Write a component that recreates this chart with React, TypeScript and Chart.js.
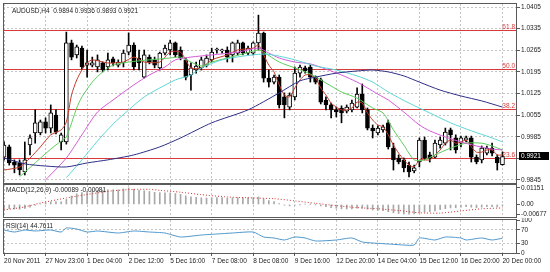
import React, { useEffect, useRef } from 'react';
import { Chart, registerables } from 'chart.js';

Chart.register(...registerables);

// ---------- text ----------
const symbolTitle = 'AUDUSD,H4  0.9894 0.9936 0.9893 0.9921';
const macdTitle = 'MACD(12,26,9) -0.00089 -0.00081';
const rsiTitle = 'RSI(14) 44.7611';

// ---------- time axis ----------
const timeLabels = ['20 Nov 2011', '27 Nov 23:00', '1 Dec 04:00', '2 Dec 12:00', '5 Dec 16:00', '7 Dec 08:00', '8 Dec 08:00', '9 Dec 16:00', '12 Dec 20:00', '14 Dec 04:00', '15 Dec 12:00', '16 Dec 20:00', '20 Dec 00:00'];
const timeLabelBars = [0, 8, 16, 24, 32, 40, 48, 56, 64, 72, 80, 88, 96];

// ---------- price candles (H4) ----------
const opens = [0.9919, 0.9952, 0.9903, 0.9900, 0.9871, 0.9958, 0.9997, 0.9997, 1.0033, 1.0013, 1.0055, 0.9968, 0.9968, 1.0289, 1.0250, 1.0272, 1.0217, 1.0217, 1.0211, 1.0224, 1.0211, 1.0237, 1.0217, 1.0224, 1.0259, 1.0282, 1.0240, 1.0178, 1.0243, 1.0234, 1.0208, 1.0256, 1.0266, 1.0289, 1.0266, 1.0234, 1.0185, 1.0201, 1.0208, 1.0217, 1.0234, 1.0266, 1.0263, 1.0266, 1.0250, 1.0256, 1.0289, 1.0256, 1.0256, 1.0289, 1.0321, 1.0175, 1.0162, 1.0178, 1.0114, 1.0081, 1.0114, 1.0191, 1.0208, 1.0211, 1.0178, 1.0169, 1.0104, 1.0088, 1.0072, 1.0078, 1.0068, 1.0072, 1.0081, 1.0123, 1.0072, 1.0013, 0.9997, 1.0007, 1.0030, 0.9948, 0.9916, 0.9910, 0.9893, 0.9874, 0.9903, 0.9974, 0.9926, 0.9919, 0.9958, 0.9964, 1.0007, 0.9981, 0.9964, 0.9974, 0.9981, 0.9919, 0.9910, 0.9932, 0.9948, 0.9919, 0.9894];
const highs = [0.9968, 0.9958, 0.9910, 0.9910, 0.9968, 0.9991, 1.0072, 1.0039, 1.0046, 1.0088, 1.0072, 0.9997, 1.0324, 1.0298, 1.0282, 1.0279, 1.0266, 1.0243, 1.0250, 1.0227, 1.0256, 1.0243, 1.0234, 1.0266, 1.0321, 1.0289, 1.0266, 1.0266, 1.0250, 1.0243, 1.0259, 1.0282, 1.0298, 1.0292, 1.0276, 1.0240, 1.0224, 1.0227, 1.0243, 1.0250, 1.0272, 1.0272, 1.0269, 1.0276, 1.0292, 1.0298, 1.0292, 1.0279, 1.0292, 1.0379, 1.0324, 1.0201, 1.0185, 1.0185, 1.0127, 1.0127, 1.0211, 1.0217, 1.0214, 1.0217, 1.0182, 1.0175, 1.0114, 1.0094, 1.0081, 1.0085, 1.0088, 1.0104, 1.0143, 1.0156, 1.0078, 1.0023, 1.0020, 1.0023, 1.0039, 0.9964, 0.9926, 0.9916, 0.9903, 0.9893, 0.9981, 0.9984, 0.9935, 0.9974, 0.9984, 1.0013, 1.0013, 0.9991, 0.9987, 0.9987, 0.9987, 0.9926, 0.9955, 0.9955, 0.9964, 0.9926, 0.9936];
const lows = [0.9910, 0.9893, 0.9868, 0.9861, 0.9861, 0.9926, 0.9964, 0.9991, 0.9997, 0.9997, 0.9994, 0.9942, 0.9961, 1.0234, 1.0240, 1.0204, 1.0178, 1.0211, 1.0195, 1.0195, 1.0201, 1.0214, 1.0211, 1.0211, 1.0250, 1.0201, 1.0201, 1.0175, 1.0221, 1.0208, 1.0201, 1.0250, 1.0250, 1.0243, 1.0234, 1.0169, 1.0136, 1.0191, 1.0201, 1.0211, 1.0227, 1.0256, 1.0256, 1.0227, 1.0227, 1.0250, 1.0250, 1.0250, 1.0250, 1.0266, 1.0162, 1.0146, 1.0156, 1.0078, 1.0046, 1.0072, 1.0104, 1.0178, 1.0191, 1.0162, 1.0156, 1.0091, 1.0072, 1.0046, 1.0049, 1.0030, 1.0062, 1.0065, 1.0078, 1.0062, 1.0007, 0.9981, 0.9991, 1.0000, 0.9945, 0.9877, 0.9897, 0.9871, 0.9855, 0.9868, 0.9887, 0.9910, 0.9903, 0.9916, 0.9948, 0.9958, 0.9942, 0.9932, 0.9952, 0.9968, 0.9903, 0.9897, 0.9900, 0.9926, 0.9923, 0.9877, 0.9893];
const closes = [0.9958, 0.9900, 0.9893, 0.9877, 0.9910, 0.9981, 1.0030, 1.0033, 1.0013, 1.0062, 1.0000, 0.9991, 1.0289, 1.0243, 1.0276, 1.0211, 1.0224, 1.0224, 1.0234, 1.0201, 1.0234, 1.0224, 1.0227, 1.0256, 1.0282, 1.0211, 1.0224, 1.0250, 1.0227, 1.0217, 1.0256, 1.0272, 1.0289, 1.0250, 1.0240, 1.0178, 1.0208, 1.0214, 1.0234, 1.0240, 1.0259, 1.0266, 1.0263, 1.0243, 1.0289, 1.0289, 1.0256, 1.0272, 1.0289, 1.0321, 1.0175, 1.0162, 1.0178, 1.0088, 1.0088, 1.0120, 1.0191, 1.0211, 1.0198, 1.0178, 1.0162, 1.0097, 1.0088, 1.0072, 1.0065, 1.0062, 1.0081, 1.0094, 1.0123, 1.0072, 1.0013, 1.0004, 1.0013, 1.0017, 0.9952, 0.9910, 0.9903, 0.9884, 0.9871, 0.9884, 0.9974, 0.9916, 0.9913, 0.9964, 0.9974, 1.0000, 0.9991, 0.9942, 0.9981, 0.9981, 0.9919, 0.9903, 0.9948, 0.9948, 0.9932, 0.9900, 0.9921];

// ---------- moving averages: [bar, price] read at sample bars ----------
const maRed: [number, number][] = [[0, 0.9877], [3, 0.9887], [5, 0.9916], [7, 0.9952], [9, 0.9991], [11, 1.0007], [12, 1.0033], [13, 1.0120], [14, 1.0169], [15, 1.0201], [16, 1.0224], [17, 1.0234], [20, 1.0224], [23, 1.0227], [25, 1.0243], [27, 1.0227], [30, 1.0227], [32, 1.0259], [34, 1.0259], [36, 1.0208], [38, 1.0208], [40, 1.0234], [43, 1.0250], [45, 1.0266], [48, 1.0272], [49, 1.0282], [50, 1.0250], [51, 1.0217], [52, 1.0195], [53, 1.0153], [54, 1.0120], [55, 1.0114], [56, 1.0143], [57, 1.0169], [58, 1.0185], [59, 1.0185], [60, 1.0175], [61, 1.0143], [62, 1.0120], [63, 1.0094], [64, 1.0081], [65, 1.0072], [66, 1.0072], [67, 1.0078], [68, 1.0097], [69, 1.0094], [70, 1.0062], [71, 1.0039], [72, 1.0023], [73, 1.0017], [74, 0.9991], [75, 0.9958], [76, 0.9932], [77, 0.9910], [78, 0.9893], [79, 0.9887], [80, 0.9910], [81, 0.9910], [82, 0.9910], [83, 0.9926], [84, 0.9942], [85, 0.9964], [86, 0.9974], [87, 0.9964], [88, 0.9968], [89, 0.9974], [90, 0.9952], [91, 0.9935], [92, 0.9935], [93, 0.9942], [94, 0.9942], [95, 0.9926], [96, 0.9926]];
const maGreen: [number, number][] = [[3, 0.9855], [6, 0.9900], [9, 0.9945], [11, 0.9971], [12, 0.9984], [14, 1.0078], [15, 1.0114], [17, 1.0162], [19, 1.0195], [21, 1.0217], [24, 1.0227], [28, 1.0234], [32, 1.0240], [34, 1.0243], [36, 1.0227], [38, 1.0214], [40, 1.0227], [43, 1.0240], [46, 1.0253], [49, 1.0266], [50, 1.0259], [53, 1.0227], [56, 1.0208], [59, 1.0188], [62, 1.0159], [65, 1.0130], [68, 1.0110], [71, 1.0078], [73, 1.0062], [75, 1.0007], [77, 0.9958], [79, 0.9910], [81, 0.9910], [83, 0.9926], [86, 0.9948], [89, 0.9964], [92, 0.9964], [94, 0.9955], [96, 0.9942]];
const maMagenta: [number, number][] = [[8, 0.9845], [12, 0.9916], [15, 0.9991], [18, 1.0065], [21, 1.0104], [25, 1.0153], [28, 1.0185], [31, 1.0211], [33, 1.0234], [36, 1.0243], [40, 1.0250], [45, 1.0259], [49, 1.0272], [51, 1.0256], [53, 1.0240], [56, 1.0227], [59, 1.0221], [62, 1.0204], [65, 1.0185], [68, 1.0162], [70, 1.0143], [72, 1.0123], [74, 1.0104], [77, 1.0065], [80, 1.0023], [82, 1.0004], [85, 0.9984], [88, 0.9968], [91, 0.9955], [94, 0.9945], [96, 0.9942]];
const maCyan: [number, number][] = [[12, 0.9852], [15, 0.9910], [18, 0.9971], [21, 1.0026], [24, 1.0072], [27, 1.0114], [30, 1.0143], [33, 1.0169], [36, 1.0185], [38, 1.0208], [42, 1.0234], [46, 1.0246], [50, 1.0253], [53, 1.0246], [56, 1.0234], [60, 1.0214], [64, 1.0201], [68, 1.0182], [71, 1.0162], [74, 1.0130], [78, 1.0094], [82, 1.0062], [86, 1.0030], [90, 1.0004], [94, 0.9981], [96, 0.9968]];
const maNavy: [number, number][] = [[0, 0.9916], [4, 0.9897], [8, 0.9890], [12, 0.9887], [16, 0.9900], [20, 0.9910], [25, 0.9926], [30, 0.9952], [34, 0.9981], [40, 1.0030], [47, 1.0072], [53, 1.0127], [57, 1.0166], [60, 1.0178], [64, 1.0191], [68, 1.0198], [71, 1.0201], [74, 1.0195], [77, 1.0182], [80, 1.0162], [84, 1.0136], [88, 1.0117], [92, 1.0101], [96, 1.0081]];

// ---------- fibonacci levels ----------
const fibLabels = ['61.8', '50.0', '38.2', '23.6'];
const fibPrices = [1.0331, 1.0203, 1.0075, 0.9916];

// ---------- price axis ----------
const priceTicks = [1.0405, 1.0335, 1.0265, 1.0195, 1.0125, 1.0055, 0.9985, 0.9915, 0.9845];
const lastPrice = 0.9921;

// ---------- MACD ----------
const macdMain = [-0.0030, -0.0030, -0.0032, -0.0033, -0.0028, -0.0018, -0.0006, 0.0004, 0.0010, 0.0018, 0.0020, 0.0018, 0.0035, 0.0058, 0.0074, 0.0083, 0.0090, 0.0095, 0.0099, 0.0100, 0.0102, 0.0102, 0.0101, 0.0108, 0.01151, 0.0105, 0.0098, 0.0095, 0.0090, 0.0084, 0.0082, 0.0080, 0.0080, 0.0076, 0.0070, 0.0060, 0.0053, 0.0049, 0.0046, 0.0045, 0.0046, 0.0047, 0.0047, 0.0044, 0.0046, 0.0048, 0.0046, 0.0046, 0.0047, 0.0052, 0.0038, 0.0027, 0.0020, 0.0006, -0.0005, -0.0010, -0.0006, -0.0001, 0.0002, 0.0001, -0.0001, -0.0010, -0.0016, -0.0022, -0.0027, -0.0031, -0.0032, -0.0031, -0.0025, -0.0026, -0.0033, -0.0039, -0.0042, -0.0043, -0.0050, -0.0058, -0.0063, -0.0067, -0.00677, -0.0066, -0.0056, -0.0053, -0.0050, -0.0044, -0.0037, -0.0029, -0.0024, -0.0023, -0.0019, -0.0016, -0.0019, -0.0022, -0.0019, -0.0016, -0.0015, -0.0017, -0.0009];
const macdSignal: [number, number][] = [[0, -0.0038], [4, -0.0017], [7, 0.0010], [12, 0.0045], [17, 0.0075], [21, 0.0095], [25, 0.0105], [28, 0.0105], [30, 0.0098], [34, 0.0085], [38, 0.0068], [43, 0.0052], [48, 0.0045], [52, 0.0040], [56, 0.0025], [60, 0.0008], [64, -0.0008], [68, -0.0022], [72, -0.0030], [76, -0.0042], [80, -0.0058], [84, -0.0060], [88, -0.0045], [92, -0.0030], [96, -0.0024]];
const macdTicks = [0.01151, 0, -0.00677];
const macdTickLabels = ['0.01151', '0.00', '-0.00677'];

// ---------- RSI ----------
const rsiValues: [number, number][] = [[0, 69.7], [2, 63.6], [4, 69.7], [6, 66.7], [9, 69.7], [11, 63.6], [12, 75.8], [14, 72.7], [16, 63.6], [18, 66.7], [22, 60.6], [25, 66.7], [28, 63.6], [31, 60.6], [34, 48.5], [38, 54.5], [41, 57.6], [44, 60.6], [48, 63.6], [50, 48.5], [52, 45.5], [54, 39.4], [56, 48.5], [58, 45.5], [60, 36.4], [64, 39.4], [67, 45.5], [69, 33.3], [71, 30.3], [74, 27.3], [77, 24.2], [79, 24.2], [80, 45.5], [83, 39.4], [85, 48.5], [88, 45.5], [89, 39.4], [92, 45.5], [94, 39.4], [96, 44.76]];
const rsiTicks = [100, 70, 30, 0];

// ---------- styling ----------
const FONT_FAMILY = "'Liberation Sans', Arial, sans-serif";
const FONT_SIZE = 6.5;
const TEXT = '#222';
const GRID = '#c4c4c4';
const FRAME = '#5a5a5a';
const FIB = '#d83a3a';
const AXIS_W = 33;
const X_MIN = -0.2;
const X_MAX = 98.8;

const toXY = (pairs: [number, number][]) => pairs.map(([x, y]) => ({ x, y }));

function xAxis(showLabels: boolean): any {
  return {
    type: 'linear',
    min: X_MIN,
    max: X_MAX,
    offset: false,
    afterBuildTicks: (s: any) => { s.ticks = timeLabelBars.map((v) => ({ value: v })); },
    afterFit: (s: any) => { s.height = showLabels ? 19 : 0; s.paddingLeft = 0; s.paddingRight = 0; },
    grid: { color: GRID, lineWidth: 1, offset: false, drawTicks: showLabels, tickLength: 3, tickColor: FRAME, tickBorderDash: [] },
    border: { display: false, dash: [2, 2] },
    ticks: {
      display: showLabels, autoSkip: false, maxRotation: 0, minRotation: 0, align: 'start', padding: 1,
      font: { family: FONT_FAMILY, size: FONT_SIZE }, color: TEXT,
      callback: (_v: any, i: number) => timeLabels[i] ?? '',
    },
  };
}

function yAxis(min: number, max: number, ticks: number[], labels: string[], gridFor: (v: number) => boolean): any {
  return {
    position: 'right',
    min,
    max,
    afterBuildTicks: (s: any) => { s.ticks = ticks.map((v) => ({ value: v })); },
    afterFit: (s: any) => { s.width = AXIS_W; s.paddingTop = 0; s.paddingBottom = 0; },
    grid: {
      color: (c: any) => (c.tick && gridFor(c.tick.value) ? GRID : 'rgba(0,0,0,0)'),
      lineWidth: 1, drawTicks: true, tickLength: 3, tickColor: FRAME, tickBorderDash: [],
    },
    border: { display: false, dash: [2, 2] },
    ticks: {
      autoSkip: false, padding: 1,
      font: { family: FONT_FAMILY, size: FONT_SIZE }, color: TEXT,
      callback: (_v: any, i: number) => labels[i] ?? '',
    },
  };
}

function framePlugin(title: string, titleX: number, titleY: number) {
  return {
    id: 'frame_' + title.slice(0, 4),
    afterDraw(chart: any) {
      const { ctx, chartArea: a } = chart;
      ctx.save();
      ctx.strokeStyle = FRAME;
      ctx.lineWidth = 1;
      ctx.strokeRect(Math.round(a.left) + 0.5, Math.round(a.top) - 0.5, Math.round(a.right - a.left) - 1, Math.round(a.bottom - a.top) + 1);
      ctx.fillStyle = TEXT;
      ctx.font = `${FONT_SIZE}px ${FONT_FAMILY}`;
      ctx.textAlign = 'left';
      ctx.textBaseline = 'middle';
      ctx.fillText(title, titleX, titleY);
      ctx.restore();
    },
  };
}

const fibPlugin = {
  id: 'fib',
  beforeDatasetsDraw(chart: any) {
    const { ctx, chartArea: a, scales } = chart;
    const y = scales.y;
    ctx.save();
    ctx.beginPath();
    ctx.rect(a.left, a.top, a.right - a.left, a.bottom - a.top);
    ctx.clip();
    fibPrices.forEach((p, k) => {
      const py = Math.round(y.getPixelForValue(p)) + 0.5;
      ctx.strokeStyle = FIB;
      ctx.lineWidth = 1;
      ctx.setLineDash([]);
      ctx.beginPath();
      ctx.moveTo(a.left, py);
      ctx.lineTo(a.right, py);
      ctx.stroke();
      ctx.fillStyle = FIB;
      ctx.font = `${FONT_SIZE}px ${FONT_FAMILY}`;
      ctx.textAlign = 'right';
      ctx.textBaseline = 'bottom';
      ctx.fillText(fibLabels[k], a.right - 2, py - 0.5);
    });
    ctx.restore();
  },
  afterDraw(chart: any) {
    const { ctx, chartArea: a, scales } = chart;
    const py = scales.y.getPixelForValue(lastPrice);
    ctx.save();
    ctx.fillStyle = '#000';
    ctx.fillRect(a.right + 2, Math.round(py) - 4, 30, 8);
    ctx.fillStyle = '#fff';
    ctx.font = `${FONT_SIZE}px ${FONT_FAMILY}`;
    ctx.textAlign = 'left';
    ctx.textBaseline = 'middle';
    ctx.fillText(lastPrice.toFixed(4), a.right + 4, Math.round(py));
    ctx.restore();
  },
};

const baseOptions = {
  responsive: false,
  animation: false,
  devicePixelRatio: 1,
  events: [],
  plugins: { legend: { display: false }, tooltip: { enabled: false } },
};

function maDataset(pairs: [number, number][], color: string): any {
  return {
    type: 'line', data: toXY(pairs), borderColor: color, borderWidth: 1,
    pointRadius: 0, tension: 0.25, spanGaps: true, order: -1,
  };
}

export default function App() {
  const mainRef = useRef<HTMLCanvasElement>(null);
  const macdRef = useRef<HTMLCanvasElement>(null);
  const rsiRef = useRef<HTMLCanvasElement>(null);

  useEffect(() => {
    const charts: Chart[] = [];

    const wickData = highs.map((h, i) => ({ x: i, y: [lows[i], h] }));
    const bodyData = opens.map((o, i) => ({ x: i, y: [o, closes[i]] }));
    const bodyColors = opens.map((o, i) => (closes[i] >= o ? '#ffffff' : '#000000'));

    charts.push(new Chart(mainRef.current as HTMLCanvasElement, {
      type: 'bar',
      data: {
        datasets: [
          maDataset(maNavy, '#2e2e86'),
          maDataset(maCyan, '#5fd6d6'),
          maDataset(maMagenta, '#d45ad4'),
          maDataset(maGreen, '#5ccc5c'),
          maDataset(maRed, '#c23b2b'),
          { type: 'bar', data: wickData, backgroundColor: '#000', barThickness: 1, grouped: false, order: 2, borderWidth: 0 },
          { type: 'bar', data: bodyData, backgroundColor: bodyColors, borderColor: '#000', borderWidth: 1, borderSkipped: false, barThickness: 4, minBarLength: 1, grouped: false, order: 1 },
        ],
      } as any,
      options: {
        ...baseOptions,
        layout: { padding: { left: 3, top: 4, right: 0, bottom: 1 } },
        scales: {
          x: xAxis(false),
          y: yAxis(0.9835, 1.0415, priceTicks, priceTicks.map((v) => v.toFixed(4)), () => true),
        },
      } as any,
      plugins: [fibPlugin, framePlugin(symbolTitle, 12, 11)],
    }));

    charts.push(new Chart(macdRef.current as HTMLCanvasElement, {
      type: 'bar',
      data: {
        datasets: [
          { type: 'line', data: toXY(macdSignal), borderColor: '#d03030', borderWidth: 1, borderDash: [1, 2], pointRadius: 0, tension: 0.2, spanGaps: true, order: 0 },
          { type: 'bar', data: macdMain.map((v, i) => ({ x: i, y: v })), backgroundColor: '#a8a8a8', barThickness: 1, grouped: false, order: 1 },
        ],
      } as any,
      options: {
        ...baseOptions,
        layout: { padding: { left: 3, top: 1, right: 0, bottom: 1 } },
        scales: {
          x: xAxis(false),
          y: yAxis(-0.0087, 0.0135, macdTicks, macdTickLabels, () => false),
        },
      } as any,
      plugins: [framePlugin(macdTitle, 6, 6)],
    }));

    charts.push(new Chart(rsiRef.current as HTMLCanvasElement, {
      type: 'line',
      data: {
        datasets: [
          { data: toXY(rsiValues), borderColor: '#4f97cc', borderWidth: 1, pointRadius: 0, tension: 0.2, spanGaps: true },
        ],
      } as any,
      options: {
        ...baseOptions,
        layout: { padding: { left: 3, top: 2, right: 0, bottom: 0 } },
        scales: {
          x: xAxis(true),
          y: yAxis(0, 100, rsiTicks, rsiTicks.map(String), (v) => v === 70 || v === 30),
        },
      } as any,
      plugins: [framePlugin(rsiTitle, 6, 8)],
    }));

    return () => charts.forEach((c) => c.destroy());
  }, []);

  const abs = (top: number, h: number): React.CSSProperties => ({ position: 'absolute', left: 0, top, width: 550, height: h });
  return (
    <div style={{ position: 'fixed', left: 0, top: 0, width: 550, height: 272, background: '#ffffff' }}>
      <canvas ref={mainRef} width={550} height={184} style={abs(0, 184)} />
      <canvas ref={macdRef} width={550} height={34} style={abs(184, 34)} />
      <canvas ref={rsiRef} width={550} height={54} style={abs(218, 54)} />
    </div>
  );
}
